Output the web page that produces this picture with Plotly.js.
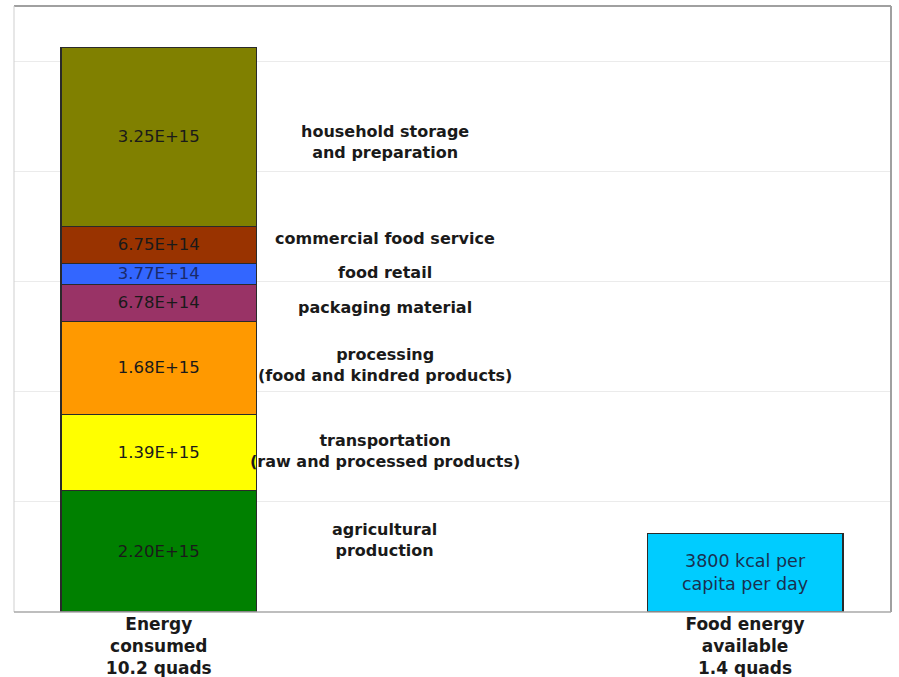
<!DOCTYPE html>
<html>
<head>
<meta charset="utf-8">
<script src="https://cdn.plot.ly/plotly-3.0.1.min.js"></script>
<style>html,body{margin:0;padding:0;background:#fff;}#chart{width:899px;height:677px;}</style>
</head>
<body>
<div id="chart"></div>
<script>
// ---- data ----
const categories = ["Energy consumed", "Food energy available"];
const tickLabels = ["Energy<br>consumed<br>10.2 quads", "Food energy<br>available<br>1.4 quads"];
const stageNames = ["agricultural production", "transportation", "processing", "packaging material", "food retail", "commercial food service", "household storage and preparation"];
const stageLabels = ["agricultural<br>production", "transportation<br>(raw and processed products)", "processing<br>(food and kindred products)", "packaging material", "food retail", "commercial food service", "household storage<br>and preparation"];
const stageValues = [2.20e15, 1.39e15, 1.68e15, 6.78e14, 3.77e14, 6.75e14, 3.25e15];
const stageValueText = ["2.20E+15", "1.39E+15", "1.68E+15", "6.78E+14", "3.77E+14", "6.75E+14", "3.25E+15"];
const foodEnergyValue = 1.43e15;
const foodEnergyText = "3800 kcal per<br>capita per day";

// ---- styles ----
const stageColors = ["#008000", "#ffff00", "#ff9900", "#993366", "#3366ff", "#993300", "#808000"];
const stageTextColors = ["#1a1a1a", "#1a1a1a", "#1a1a1a", "#1a1a1a", "#1a2a6a", "#1a1a1a", "#1a1a1a"];
const labelShift = [11, 2, 3, -4, 1, 6, -5];
const labelX = 0.385;
const barWidth = 0.334;

const traces = stageValues.map((v, i) => ({
  type: "bar",
  name: stageNames[i],
  x: [categories[0]],
  y: [v],
  width: barWidth,
  text: [stageValueText[i]],
  textposition: "inside",
  insidetextanchor: "middle",
  constraintext: "none",
  textfont: {family: "DejaVu Sans", size: 16.5, color: stageTextColors[i]},
  marker: {color: stageColors[i], line: {color: "#2a2a2a", width: 1.2}},
  hoverinfo: "name+y"
}));
traces.push({
  type: "bar",
  name: "food energy available",
  x: [categories[1]],
  y: [foodEnergyValue],
  width: barWidth,
  text: [foodEnergyText],
  textposition: "inside",
  insidetextanchor: "middle",
  constraintext: "none",
  textfont: {family: "DejaVu Sans", size: 17.5, color: "#1a3050"},
  marker: {color: "#00ccff", line: {color: "#2a2a2a", width: 1.2}},
  hoverinfo: "name+y"
});

// label annotations at segment midpoints
let cum = 0;
const annotations = stageValues.map((v, i) => {
  const mid = cum + v / 2;
  cum += v;
  return {
    x: labelX, y: mid, xref: "x", yref: "y",
    text: stageLabels[i], showarrow: false, yshift: labelShift[i],
    font: {family: "DejaVu Sans", size: 16, color: "#1a1a1a", weight: "bold"},
    align: "center"
  };
});

const layout = {
  width: 899, height: 677,
  margin: {l: 14, r: 8, t: 6, b: 65, pad: 0},
  paper_bgcolor: "#ffffff",
  plot_bgcolor: "#ffffff",
  barmode: "stack",
  showlegend: false,
  xaxis: {
    type: "category",
    categoryorder: "array",
    categoryarray: categories,
    range: [-0.247, 1.249],
    tickvals: categories,
    ticktext: tickLabels,
    tickfont: {family: "DejaVu Sans", size: 17, color: "#1a1a1a", weight: "bold"},
    ticks: "",
    ticklen: 0,
    showgrid: false,
    showline: false,
    zeroline: false,
    automargin: false
  },
  yaxis: {
    range: [0, 11e15],
    dtick: 2e15,
    tick0: 0,
    showticklabels: false,
    ticks: "",
    showgrid: true,
    gridcolor: "#ebebeb",
    gridwidth: 1,
    zeroline: false,
    showline: false
  },
  annotations: annotations,
  shapes: [
    {type: "line", xref: "paper", yref: "paper", x0: 0, x1: 1, y0: 1, y1: 1, line: {color: "#a0a0a0", width: 2}},
    {type: "line", xref: "paper", yref: "paper", x0: 1, x1: 1, y0: 0, y1: 1, line: {color: "#a0a0a0", width: 2}},
    {type: "line", xref: "paper", yref: "paper", x0: 0, x1: 0, y0: 0, y1: 1, line: {color: "#cfcfcf", width: 1}},
    {type: "line", xref: "paper", yref: "paper", x0: 0, x1: 1, y0: 0, y1: 0, line: {color: "#a8a8a8", width: 1.5}}
  ]
};

Plotly.newPlot("chart", traces, layout, {displayModeBar: false, staticPlot: true});
</script>
</body>
</html>
